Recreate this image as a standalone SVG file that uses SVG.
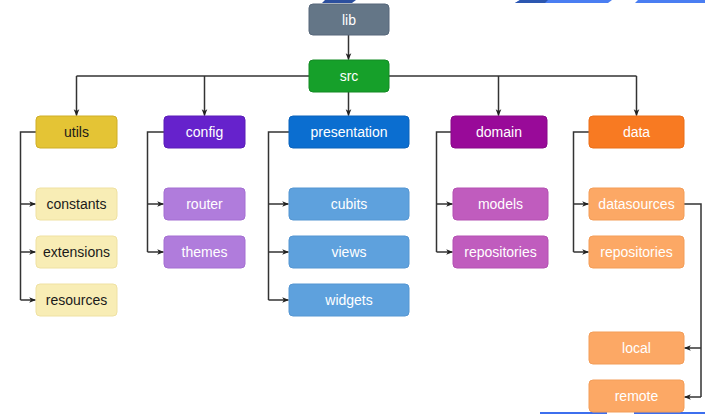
<svg xmlns="http://www.w3.org/2000/svg" width="705" height="414" viewBox="0 0 705 414">
<defs>
<marker id="arr" viewBox="0 0 10 10" refX="9" refY="5" markerWidth="7" markerHeight="7" markerUnits="userSpaceOnUse" orient="auto">
<path d="M0,1 L10,5 L0,9 L2.5,5 Z" fill="#222"/>
</marker>
<style>
.box{stroke-width:1}
text{font-family:"Liberation Sans",Arial,Helvetica,sans-serif;font-size:14px;text-anchor:middle;dominant-baseline:central}
.w{fill:#ffffff}
.k{fill:#1a1a1a}
.c{fill:none;stroke:#333;stroke-width:1.5;marker-end:url(#arr)}
.l{fill:none;stroke:#333;stroke-width:1.5}
</style>
</defs>
<rect width="705" height="414" fill="#ffffff"/>
<g id="artifacts">
<polygon points="325,0 356,0 352,3 322,3" fill="#2c4f9e"/>
<polygon points="520,0 612,0 608,3 515,3" fill="#4a7ef2"/>
<polygon points="520,0 548,0 545,3 515,3" fill="#2c57b0"/>
<polygon points="638,0 705,0 705,3 635,3" fill="#4a7ef2"/>
<rect x="540" y="412" width="67" height="2" fill="#3d6fee"/>
<rect x="634" y="412" width="71" height="2" fill="#3d6fee"/>
</g>
<g id="connectors">
<path class="c" d="M348.5,35 V59.5"/>
<path class="l" d="M309,76 H76.5"/>
<path class="l" d="M389,76 H636.5"/>
<path class="c" d="M76.5,76 V115.5"/>
<path class="c" d="M204.5,76 V115.5"/>
<path class="c" d="M348.5,92 V115.5"/>
<path class="c" d="M498.5,76 V115.5"/>
<path class="c" d="M636.5,76 V115.5"/>
<path class="l" d="M36,132 H20.5 V300"/>
<path class="c" d="M20.5,204 H35.5"/>
<path class="c" d="M20.5,252 H35.5"/>
<path class="c" d="M20.5,300 H35.5"/>
<path class="l" d="M164,132 H147.5 V252"/>
<path class="c" d="M147.5,204 H163.5"/>
<path class="c" d="M147.5,252 H163.5"/>
<path class="l" d="M289,132 H268.5 V300"/>
<path class="c" d="M268.5,204 H288.5"/>
<path class="c" d="M268.5,252 H288.5"/>
<path class="c" d="M268.5,300 H288.5"/>
<path class="l" d="M451,132 H436.5 V252"/>
<path class="c" d="M436.5,204 H452.5"/>
<path class="c" d="M436.5,252 H452.5"/>
<path class="l" d="M589,132 H573.5 V252"/>
<path class="c" d="M573.5,204 H588.5"/>
<path class="c" d="M573.5,252 H588.5"/>
<path class="l" d="M684,204 H701 V397"/>
<path class="c" d="M701,348 H684.5"/>
<path class="c" d="M701,397 H684.5"/>
</g>
<g id="lib"><rect class="box" x="309" y="4" width="80" height="31" rx="4" fill="#647687" stroke="#56677a"/><text class="w" x="349" y="20">lib</text></g>
<g id="src"><rect class="box" x="309" y="60" width="80" height="32" rx="4" fill="#16a02a" stroke="#128a23"/><text class="w" x="349" y="76">src</text></g>
<g id="utils"><rect class="box" x="36" y="116" width="81" height="32" rx="4" fill="#e4c435" stroke="#cfae27"/><text class="k" x="76.5" y="132">utils</text></g>
<g id="config"><rect class="box" x="164" y="116" width="81" height="32" rx="4" fill="#6622cc" stroke="#5a1cb8"/><text class="w" x="204.5" y="132">config</text></g>
<g id="presentation"><rect class="box" x="289" y="116" width="120" height="32" rx="4" fill="#0b6ed0" stroke="#0a62bb"/><text class="w" x="349" y="132">presentation</text></g>
<g id="domain"><rect class="box" x="451" y="116" width="96" height="32" rx="4" fill="#990a99" stroke="#880888"/><text class="w" x="499" y="132">domain</text></g>
<g id="data"><rect class="box" x="589" y="116" width="95" height="32" rx="4" fill="#f87a22" stroke="#ea6e18"/><text class="w" x="636.5" y="132">data</text></g>
<g id="constants"><rect class="box" x="36" y="188" width="81" height="32" rx="4" fill="#f8edb5" stroke="#efe1a2"/><text class="k" x="76.5" y="204">constants</text></g>
<g id="extensions"><rect class="box" x="36" y="236" width="81" height="32" rx="4" fill="#f8edb5" stroke="#efe1a2"/><text class="k" x="76.5" y="252">extensions</text></g>
<g id="resources"><rect class="box" x="36" y="284" width="81" height="32" rx="4" fill="#f8edb5" stroke="#efe1a2"/><text class="k" x="76.5" y="300">resources</text></g>
<g id="router"><rect class="box" x="164" y="188" width="81" height="32" rx="4" fill="#b07cdc" stroke="#a46fd2"/><text class="w" x="204.5" y="204">router</text></g>
<g id="themes"><rect class="box" x="164" y="236" width="81" height="32" rx="4" fill="#b07cdc" stroke="#a46fd2"/><text class="w" x="204.5" y="252">themes</text></g>
<g id="cubits"><rect class="box" x="289" y="188" width="120" height="32" rx="4" fill="#5ea1dd" stroke="#5596d2"/><text class="w" x="349" y="204">cubits</text></g>
<g id="views"><rect class="box" x="289" y="236" width="120" height="32" rx="4" fill="#5ea1dd" stroke="#5596d2"/><text class="w" x="349" y="252">views</text></g>
<g id="widgets"><rect class="box" x="289" y="284" width="120" height="32" rx="4" fill="#5ea1dd" stroke="#5596d2"/><text class="w" x="349" y="300">widgets</text></g>
<g id="models"><rect class="box" x="453" y="188" width="95" height="32" rx="4" fill="#c05cbe" stroke="#b451b2"/><text class="w" x="500.5" y="204">models</text></g>
<g id="domain-repositories"><rect class="box" x="453" y="236" width="95" height="32" rx="4" fill="#c05cbe" stroke="#b451b2"/><text class="w" x="500.5" y="252">repositories</text></g>
<g id="datasources"><rect class="box" x="589" y="188" width="95" height="32" rx="4" fill="#fca865" stroke="#f39d58"/><text class="w" x="636.5" y="204">datasources</text></g>
<g id="data-repositories"><rect class="box" x="589" y="236" width="95" height="32" rx="4" fill="#fca865" stroke="#f39d58"/><text class="w" x="636.5" y="252">repositories</text></g>
<g id="local"><rect class="box" x="589" y="332" width="95" height="32" rx="4" fill="#fca865" stroke="#f39d58"/><text class="w" x="636.5" y="348">local</text></g>
<g id="remote"><rect class="box" x="589" y="380" width="95" height="32" rx="4" fill="#fca865" stroke="#f39d58"/><text class="w" x="636.5" y="396">remote</text></g>
</svg>
